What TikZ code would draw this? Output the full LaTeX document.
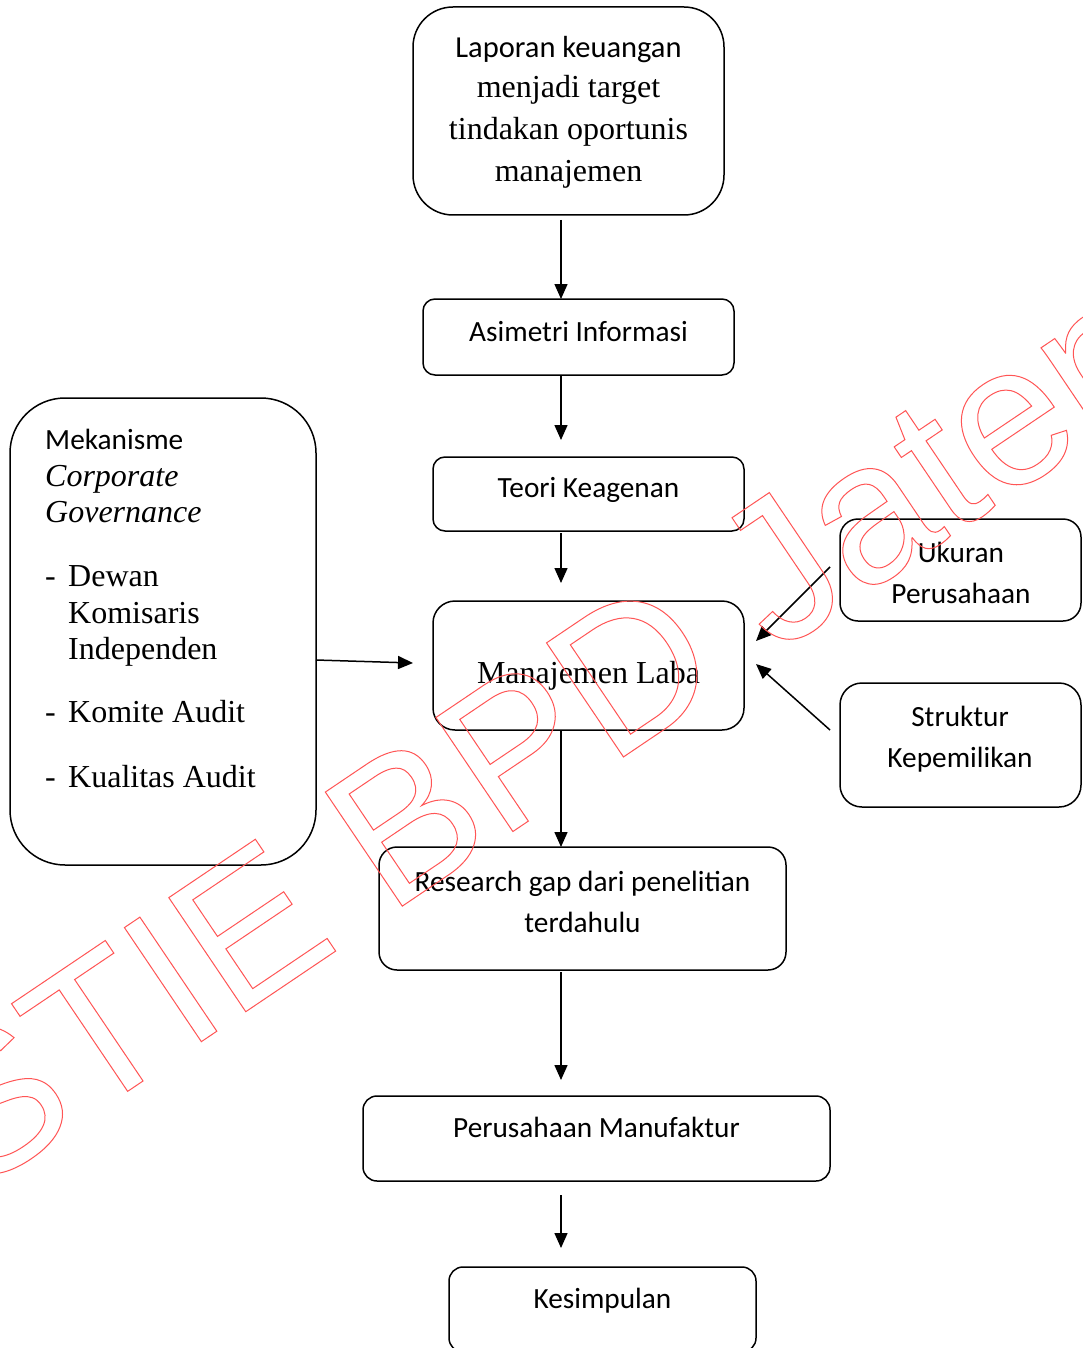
\documentclass[tikz,border=0pt]{standalone}
\usepackage{fontspec}
\setmainfont{Liberation Serif}
\newfontfamily\carl{Carlito}
\newfontfamily\wmfont{Liberation Sans}
\usetikzlibrary{arrows.meta,calc}
\definecolor{wmred}{RGB}{255,85,85}
\begin{document}
\begin{tikzpicture}[x=1pt,y=-1pt,
  box/.style={draw, line width=1.5pt, inner sep=0, outer sep=0},
  arr/.style={line width=1.5pt, -{Triangle[length=15pt,width=13pt]}},
  cs/.style={font=\carl\fontsize{29.3}{36}\selectfont, inner sep=0, anchor=base},
  ts/.style={font=\fontsize{32}{38}\selectfont, inner sep=0, anchor=base},
  tsi/.style={font=\fontsize{32}{38}\selectfont\itshape, inner sep=0, anchor=base west}]
\useasboundingbox[fill=white] (0,0) rectangle (1082,1348);

% boxes
\node[box, minimum width=311, minimum height=208, rounded corners=40] (lap) at (568.5,111) {};
\node[box, minimum width=311, minimum height=76, rounded corners=12] (asi) at (578.5,337) {};
\node[box, minimum width=311, minimum height=74, rounded corners=12] (teo) at (588.5,494) {};
\node[box, minimum width=311, minimum height=129, rounded corners=22] (man) at (588.5,665.5) {};
\node[box, minimum width=407, minimum height=123, rounded corners=18] (res) at (582.5,908.5) {};
\node[box, minimum width=467, minimum height=85, rounded corners=14] (per) at (596.5,1138.5) {};
\node[box, minimum width=307, minimum height=85, rounded corners=14] (kes) at (602.5,1309.5) {};
\node[box, minimum width=306, minimum height=467, rounded corners=55] (mek) at (163,631.5) {};
\node[box, minimum width=241, minimum height=102, rounded corners=18] (ukr) at (960.5,570) {};
\node[box, minimum width=241, minimum height=124, rounded corners=22] (str) at (960.5,745) {};

% texts
\node[cs, font=\carl\fontsize{30.5}{36}\selectfont] (lap1) at (568.5,58) {Laporan keuangan};
\node[ts] (lap2) at (568.5,97.5) {menjadi target};
\node[ts] (lap3) at (568.5,140) {tindakan oportunis};
\node[ts] (lap4) at (568.5,182) {manajemen};
\node[cs] (asit) at (578.5,341.5) {Asimetri Informasi};
\node[cs] (teot) at (588.5,497.5) {Teori Keagenan};
\node[ts] (mant) at (588.5,683) {Manajemen Laba};
\node[cs] (ukr1) at (961,562.5) {Ukuran};
\node[cs] (ukr2) at (961,603.5) {Perusahaan};
\node[cs] (str1) at (960,726.5) {Struktur};
\node[cs] (str2) at (960,767.5) {Kepemilikan};
\node[cs] (res1) at (582.5,891.5) {Research gap dari penelitian};
\node[cs] (res2) at (582.5,932.5) {terdahulu};
\node[cs] (pert) at (596.5,1137.5) {Perusahaan Manufaktur};
\node[cs] (kest) at (602.5,1308.5) {Kesimpulan};

\node[cs, anchor=base west] (mk1) at (45,449.5) {Mekanisme};
\node[tsi] (mk2) at (45,486.5) {Corporate};
\node[tsi] (mk3) at (45,522.5) {Governance};
\node[ts, anchor=base west] (d1) at (45,586.5) {-};
\node[ts, anchor=base west] (i1a) at (68,586.5) {Dewan};
\node[ts, anchor=base west] (i1b) at (68,623.5) {Komisaris};
\node[ts, anchor=base west] (i1c) at (68,659.5) {Independen};
\node[ts, anchor=base west] (d2) at (45,722.5) {-};
\node[ts, anchor=base west] (i2) at (68,722.5) {Komite Audit};
\node[ts, anchor=base west] (d3) at (45,787.5) {-};
\node[ts, anchor=base west] (i3) at (68,787.5) {Kualitas Audit};

% connectors
\coordinate (ax) at (561,0);
\draw[arr] ([yshift=-5pt]lap.south -| ax) -- (asi.north -| ax);
\draw[arr] ([yshift=-1pt]asi.south -| ax) -- ([yshift=17pt]teo.north -| ax);
\draw[arr] ([yshift=-2pt]teo.south -| ax) -- ([yshift=18pt]man.north -| ax);
\draw[arr] (man.south -| ax) -- (res.north -| ax);
\draw[arr] ([yshift=-2pt]res.south -| ax) -- ([yshift=16pt]per.north -| ax);
\draw[arr] ([yshift=-14pt]per.south -| ax) -- ([yshift=19pt]kes.north -| ax);
\draw[arr] ([yshift=-28.5pt]mek.east) -- ([xshift=-20pt,yshift=2.5pt]man.west);
\draw[arr] ([xshift=-10pt,yshift=3pt]ukr.west) -- ([xshift=12pt,yshift=24.5pt]man.east);
\draw[arr] ([xshift=-10pt,yshift=15pt]str.west) -- ([xshift=12pt,yshift=1.5pt]man.east);

% watermark
\node[rotate=34, anchor=base west, inner sep=0, text=wmred] (wm) at (-26,1195)
  {\wmfont\fontsize{200}{200}\selectfont\special{pdf:literal direct 1 Tr 1 w}STIE BPD Jateng\special{pdf:literal direct 0 Tr}};
\end{tikzpicture}
\end{document}
